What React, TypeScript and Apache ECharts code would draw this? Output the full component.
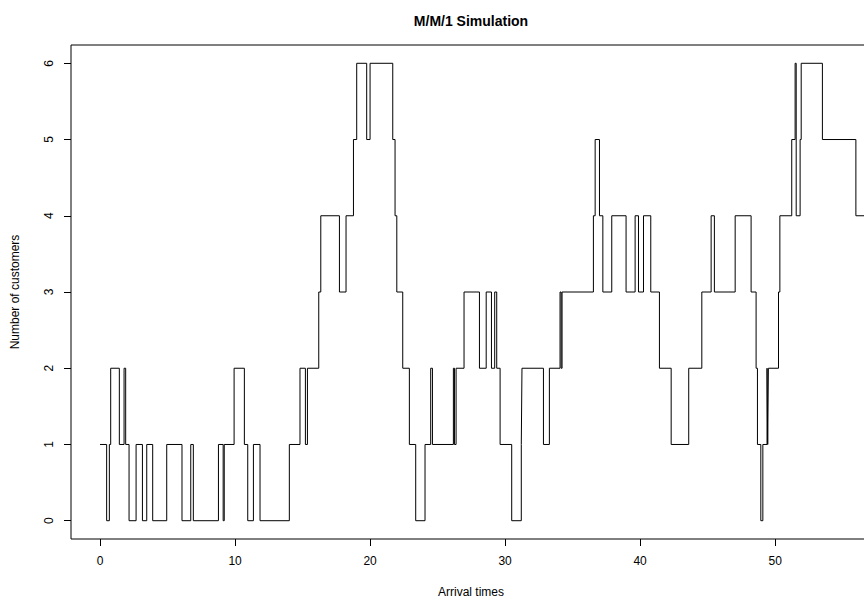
import React, { useEffect, useRef } from "react";
import * as echarts from "echarts";

// Arrival/departure times at which the queue length changes
const times: number[] = [
  0, 0.49, 0.69, 0.79, 1.43, 1.78, 1.9, 2.15, 2.67, 3.14, 3.46, 3.9, 4.94, 6.07, 6.72, 6.91,
  8.77, 9.12, 9.2, 9.93, 10.69, 10.94, 11.36, 11.85, 14.02, 14.81, 15.21, 15.36, 16.2, 16.35,
  17.73, 18.22, 18.77, 19.01, 19.75, 20.0, 21.68, 21.85, 21.98, 22.42, 22.91, 23.38, 24.07,
  24.49, 24.62, 26.17, 26.25, 26.37, 26.96, 28.1, 28.6, 28.99, 29.23, 29.38, 29.63, 30.49,
  31.2, 31.25, 32.84, 33.28, 34.07, 34.15, 34.22, 36.54, 36.67, 36.99, 37.24, 37.9, 38.96,
  39.63, 39.88, 40.25, 40.79, 41.43, 42.3, 43.6, 44.57, 45.26, 45.5, 47.04, 48.22, 48.59,
  48.69, 48.94, 49.09, 49.4, 49.45, 49.5, 50.25, 50.35, 51.23, 51.48, 51.56, 51.85, 51.93,
  53.5, 55.98, 57.1,
];
// Number of customers in the system from each time on
const counts: number[] = [
  1, 0, 1, 2, 1, 2, 1, 0, 1, 0, 1, 0, 1, 0, 1, 0,
  1, 0, 1, 2, 1, 0, 1, 0, 1, 2, 1, 2, 3, 4,
  3, 4, 5, 6, 5, 6, 5, 4, 3, 2, 1, 0, 1,
  2, 1, 2, 1, 2, 3, 2, 3, 2, 3, 2, 1, 0,
  1, 2, 1, 2, 3, 2, 3, 4, 5, 4, 3, 4, 3,
  4, 3, 4, 3, 2, 1, 2, 3, 4, 3, 4, 3, 2,
  1, 0, 1, 2, 1, 2, 3, 4, 5, 6, 4, 5, 6,
  5, 4, 4,
];
const xTicks: number[] = [0, 10, 20, 30, 40, 50];
const yTicks: number[] = [0, 1, 2, 3, 4, 5, 6];

const FONT = '"Liberation Sans", Arial, Helvetica, sans-serif';

export default function App() {
  const ref = useRef<HTMLDivElement>(null);
  useEffect(() => {
    if (!ref.current) return;
    const chart = echarts.init(ref.current, undefined, { renderer: "svg" });
    chart.setOption({
      animation: false,
      backgroundColor: "#ffffff",
      textStyle: { fontFamily: FONT },
      title: {
        text: "M/M/1 Simulation",
        left: "center",
        top: 9,
        textStyle: { fontFamily: FONT, fontSize: 14, fontWeight: "bold", color: "#000" },
      },
      grid: {
        left: 71,
        right: 71,
        top: 45,
        bottom: 64,
        show: true,
        borderColor: "#000",
        borderWidth: 1,
        backgroundColor: "transparent",
      },
      xAxis: {
        type: "value",
        min: -2.15,
        max: 57.1,
        name: "Arrival times",
        nameLocation: "middle",
        nameGap: 47,
        nameTextStyle: { fontFamily: FONT, fontSize: 12, color: "#000" },
        axisLine: { show: false, onZero: false },
        splitLine: { show: false },
        axisTick: {
          show: true,
          inside: false,
          customValues: xTicks,
          length: 7,
          lineStyle: { color: "#000", width: 1 },
        },
        axisLabel: {
          customValues: xTicks,
          color: "#000",
          fontSize: 12,
          fontFamily: FONT,
          margin: 16,
        },
      },
      yAxis: {
        type: "value",
        min: -0.24,
        max: 6.24,
        name: "Number of customers",
        nameLocation: "middle",
        nameRotate: 90,
        nameGap: 50,
        nameTextStyle: { fontFamily: FONT, fontSize: 12, color: "#000" },
        axisLine: { show: false, onZero: false },
        splitLine: { show: false },
        axisTick: {
          show: true,
          inside: false,
          customValues: yTicks,
          length: 7,
          lineStyle: { color: "#000", width: 1 },
        },
        axisLabel: {
          customValues: yTicks,
          rotate: 90,
          color: "#000",
          fontSize: 12,
          fontFamily: FONT,
          margin: 16,
        },
      },
      series: [
        {
          type: "line",
          step: "end",
          data: times.map((t, i) => [t, counts[i]]),
          showSymbol: false,
          symbol: "none",
          clip: true,
          lineStyle: { color: "#000", width: 1 },
        },
      ],
    });
    return () => chart.dispose();
  }, []);
  return (
    <div
      ref={ref}
      style={{ position: "fixed", left: 0, top: 0, width: 942, height: 603 }}
    />
  );
}
